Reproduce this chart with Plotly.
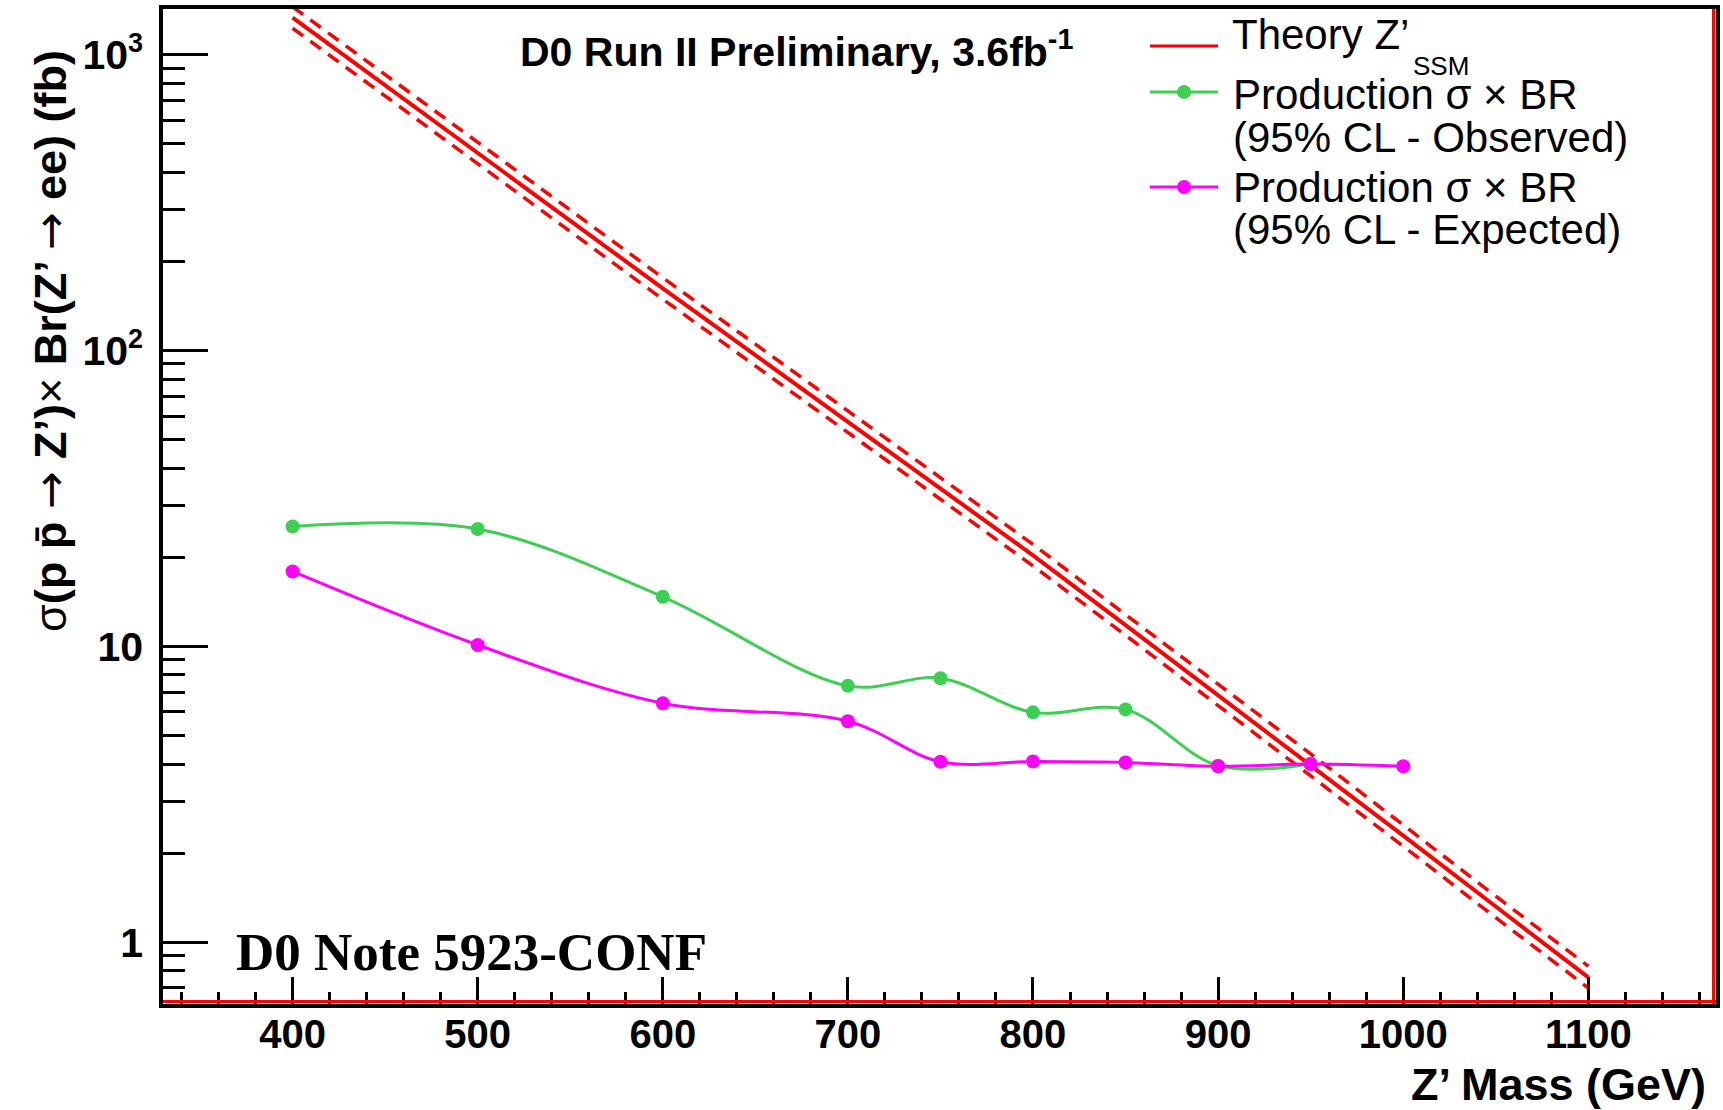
import plotly.graph_objects as go

# ---- data -------------------------------------------------------------
# SSM Z' theory prediction (fb) and its uncertainty band
mass_theory = [400, 450, 500, 550, 600, 650, 700, 750, 800, 850, 900, 950, 1000, 1050, 1100]
sigma_theory = [1334, 787, 464, 274, 162, 96.4, 57.3, 34.1, 20.3, 11.8, 6.85, 3.98, 2.29, 1.32, 0.76]
sigma_theory_up = [1450, 855, 504, 298, 176, 105, 62.3, 37.1, 22.1, 12.8, 7.45, 4.33, 2.49, 1.43, 0.83]
sigma_theory_down = [1227, 724, 427, 252, 149, 88.7, 52.7, 31.4, 18.7, 10.9, 6.30, 3.66, 2.11, 1.21, 0.70]

# 95% CL limits on sigma x BR (fb)
mass_obs = [400, 500, 600, 700, 750, 800, 850, 900, 950]
sigma_obs = [25.4, 24.9, 14.7, 7.35, 7.8, 5.98, 6.12, 3.95, 4.0]

mass_exp = [400, 500, 600, 700, 750, 800, 850, 900, 950, 1000]
sigma_exp = [17.9, 10.1, 6.42, 5.58, 4.07, 4.08, 4.05, 3.93, 4.0, 3.93]

# axis ticks
y_major = [1, 10, 100, 1000]
y_major_text = ["1", "10",
                '10<sup><span style="font-size:27px">2</span></sup>',
                '10<sup><span style="font-size:27px">3</span></sup>']
y_minor = [0.7, 0.8, 0.9, 2, 3, 4, 5, 6, 7, 8, 9,
           20, 30, 40, 50, 60, 70, 80, 90, 200, 300, 400, 500, 600, 700, 800, 900]

legend_names = ["Theory Z’", "Production σ × BR", "Production σ × BR"]
legend_sub = "SSM"
legend_notes = ["(95% CL - Observed)", "(95% CL - Expected)"]

title_text = "D0 Run II Preliminary, 3.6fb<sup>-1</sup>"
note_text = "D0 Note 5923-CONF"
x_title = "Z’ Mass (GeV)"
ARROW = '<span style="font-weight:normal;font-family:DejaVu Sans">→</span>'
y_title = ('<span style="font-weight:normal">σ</span>(p p\u0304 ' + ARROW + ' Z’)'
           '<span style="font-weight:normal">×</span> Br(Z’ ' + ARROW + ' ee) (fb)')

# ---- styling ------------------------------------------------------------
RED = "#ff0000"
GREEN = "#3ccf52"
MAGENTA = "#ff00ff"
SANS = "Liberation Sans, Arial, Helvetica, sans-serif"
SERIF = "Liberation Serif, Times New Roman, serif"

W, H = 1723, 1110
L, R, T, B = 163, 7, 9, 106
PW, PH = W - L - R, H - T - B


def px(x):
    return (x - L) / PW


def py(y):
    return (H - B - y) / PH


fig = go.Figure()

band_line = dict(color=RED, width=3.5, dash="13px,9px")
fig.add_trace(go.Scatter(x=mass_theory, y=sigma_theory_up, mode="lines",
                         line=band_line, showlegend=False, hoverinfo="skip"))
fig.add_trace(go.Scatter(x=mass_theory, y=sigma_theory_down, mode="lines",
                         line=band_line, showlegend=False, hoverinfo="skip"))
fig.add_trace(go.Scatter(x=mass_theory, y=sigma_theory, mode="lines",
                         line=dict(color=RED, width=4),
                         name=legend_names[0], showlegend=False))
fig.add_trace(go.Scatter(x=mass_obs, y=sigma_obs, mode="lines+markers",
                         line=dict(color=GREEN, width=3, shape="spline", smoothing=1),
                         marker=dict(color=GREEN, size=14),
                         name=legend_names[1], showlegend=False))
fig.add_trace(go.Scatter(x=mass_exp, y=sigma_exp, mode="lines+markers",
                         line=dict(color=MAGENTA, width=3, shape="spline", smoothing=1),
                         marker=dict(color=MAGENTA, size=14),
                         name=legend_names[2], showlegend=False))

fig.update_xaxes(
    range=[330, 1169], showgrid=False, zeroline=False,
    showline=True, linecolor="black", linewidth=3.5, mirror=True,
    tickmode="linear", tick0=0, dtick=100,
    ticks="inside", ticklen=27, tickwidth=3, tickcolor="black",
    minor=dict(dtick=20, tick0=0, ticks="inside", ticklen=12, tickwidth=3,
               tickcolor="black", showgrid=False),
    tickfont=dict(family=SANS, size=40, color="black", weight="bold"),
    ticklabelstandoff=-8,
)
fig.update_yaxes(
    type="log", range=[-0.209, 3.154], showgrid=False, zeroline=False,
    showline=True, linecolor="black", linewidth=3.5, mirror=True,
    tickmode="array", tickvals=y_major, ticktext=y_major_text,
    ticks="inside", ticklen=45, tickwidth=3, tickcolor="black",
    minor=dict(tickmode="array", tickvals=y_minor, ticks="inside", ticklen=22,
               tickwidth=3, tickcolor="black", showgrid=False),
    tickfont=dict(family=SANS, size=41, color="black", weight="bold"),
    ticklabelstandoff=8,
)

shapes = [
    # red rim along the bottom and right edges of the frame
    dict(type="line", xref="paper", yref="paper", x0=0, x1=1,
         y0=2.5 / PH, y1=2.5 / PH, line=dict(color=RED, width=3), layer="above"),
    dict(type="line", xref="paper", yref="paper", x0=1 - 2.5 / PW, x1=1 - 2.5 / PW,
         y0=0, y1=1, line=dict(color=RED, width=3), layer="above"),
    # legend samples
    dict(type="line", xref="paper", yref="paper", x0=px(1150), x1=px(1218),
         y0=py(46), y1=py(46), line=dict(color=RED, width=3)),
    dict(type="line", xref="paper", yref="paper", x0=px(1150), x1=px(1218),
         y0=py(92), y1=py(92), line=dict(color=GREEN, width=3)),
    dict(type="line", xref="paper", yref="paper", x0=px(1150), x1=px(1218),
         y0=py(187), y1=py(187), line=dict(color=MAGENTA, width=3)),
]
for yc, col in [(92, GREEN), (187, MAGENTA)]:
    shapes.append(dict(type="circle", xref="paper", yref="paper",
                       xsizemode="pixel", ysizemode="pixel",
                       xanchor=px(1184), yanchor=py(yc),
                       x0=-7, x1=7, y0=-7, y1=7,
                       fillcolor=col, line=dict(color=col, width=0)))

leg_font = dict(family=SANS, size=42, color="black")
annotations = [
    dict(text=title_text, x=px(796), y=py(49), xref="paper", yref="paper",
         showarrow=False, xanchor="center", yanchor="middle",
         font=dict(family=SANS, size=41, color="black", weight="bold")),
    dict(text=note_text, x=px(234), y=py(952), xref="paper", yref="paper",
         showarrow=False, xanchor="left", yanchor="middle",
         font=dict(family=SERIF, size=53, color="black", weight="bold")),
    dict(text=x_title, x=px(1708), y=py(1084), xref="paper", yref="paper",
         showarrow=False, xanchor="right", yanchor="middle",
         font=dict(family=SANS, size=45, color="black", weight="bold")),
    dict(text=y_title, x=px(50), y=py(341), xref="paper", yref="paper",
         showarrow=False, xanchor="center", yanchor="middle", textangle=-90,
         font=dict(family=SANS, size=45, color="black", weight="bold")),
    # legend text
    dict(text=legend_names[0], x=px(1231), y=py(34), xref="paper", yref="paper",
         showarrow=False, xanchor="left", yanchor="middle", font=leg_font,
         borderpad=0),
    dict(text=legend_sub, x=px(1412), y=py(66), xref="paper", yref="paper",
         showarrow=False, xanchor="left", yanchor="middle", borderpad=0,
         font=dict(family=SANS, size=26, color="black")),
    dict(text=legend_names[1], x=px(1231), y=py(95), xref="paper", yref="paper",
         showarrow=False, xanchor="left", yanchor="middle", font=leg_font),
    dict(text=legend_notes[0], x=px(1231), y=py(138), xref="paper", yref="paper",
         showarrow=False, xanchor="left", yanchor="middle", font=leg_font),
    dict(text=legend_names[2], x=px(1231), y=py(188), xref="paper", yref="paper",
         showarrow=False, xanchor="left", yanchor="middle", font=leg_font),
    dict(text=legend_notes[1], x=px(1231), y=py(230), xref="paper", yref="paper",
         showarrow=False, xanchor="left", yanchor="middle", font=leg_font),
]

fig.update_layout(
    template="none",
    width=W, height=H,
    margin=dict(l=L, r=R, t=T, b=B, pad=0),
    paper_bgcolor="white", plot_bgcolor="white",
    showlegend=False,
    shapes=shapes, annotations=annotations,
)

fig.write_html("out.html")
